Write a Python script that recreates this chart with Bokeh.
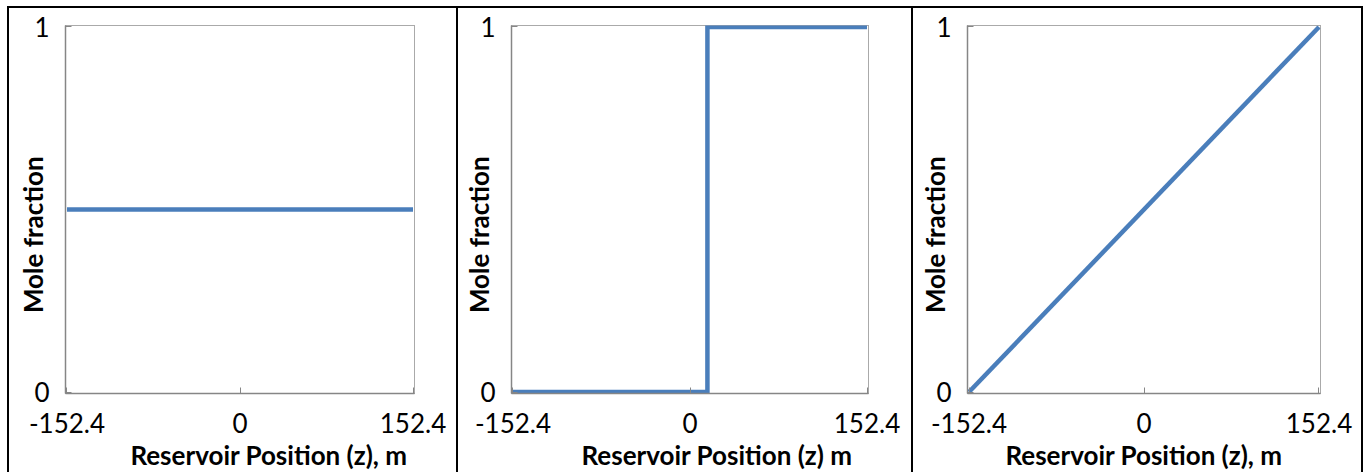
from bokeh.plotting import figure
from bokeh.layouts import row
from bokeh.models import FixedTicker, CustomJSTickFormatter, Range1d, Title
from bokeh.embed import file_html
from bokeh.resources import INLINE

# ---- data ----
z_ticks = [-152.4, 0, 152.4]
y_ticks = [0, 1]

uniform_z = [-152.4, 152.4]
uniform_x = [0.5, 0.5]

step_z = [-152.4, 15.0, 15.0, 152.4]
step_x = [0.0, 0.0, 1.0, 1.0]

linear_z = [-152.4, 152.4]
linear_x = [0.0, 1.0]

xlabels = ["Reservoir Position (z), m", "Reservoir Position (z) m", "Reservoir Position (z), m"]
ylabel = "Mole fraction"

LINE = "#4a7ebb"
AX = "#868686"
FONT = "Lato"

# (z, x, frame width, left border, right border, xlabel, right edge, title align, title offset)
panels = [
    (uniform_z, uniform_x, 347, 56, 44, xlabels[0], False, "right", 7),
    (step_z, step_x, 355, 53, 45, xlabels[1], False, "right", 16),
    (linear_z, linear_x, 349, 54, 45, xlabels[2], True, "center", 0),
]

figs = []
for z, x, fw, bl, br, xl, right_border, talign, toff in panels:
    padx = 304.8 * 1.5 / fw
    pady = 1.0 * 1.5 / 366
    p = figure(frame_width=fw, frame_height=366,
               x_range=Range1d(-152.4 - padx, 152.4 + padx),
               y_range=Range1d(0 - pady, 1 + pady),
               output_backend="svg", toolbar_location=None,
               min_border_left=bl, min_border_right=br,
               min_border_top=17, min_border_bottom=83)
    styles = {"border-top": "2px solid black", "border-left": "2px solid black"}
    if right_border:
        styles["border-right"] = "2px solid black"
    p.styles = styles
    p.grid.visible = False
    p.outline_line_color = "#555555"
    p.outline_line_dash = "1 1"
    p.outline_line_width = 1

    p.line(z, x, line_color=LINE, line_width=4.5, line_join="miter")

    p.xaxis.ticker = FixedTicker(ticks=z_ticks)
    p.yaxis.ticker = FixedTicker(ticks=y_ticks)
    p.xaxis.formatter = CustomJSTickFormatter(code="return String(tick);")
    p.yaxis.formatter = CustomJSTickFormatter(code="return String(tick);")
    for ax in (p.xaxis[0], p.yaxis[0]):
        ax.axis_line_color = AX
        ax.axis_line_width = 1.5
        ax.major_tick_line_color = AX
        ax.major_tick_in = 6
        ax.major_tick_out = 0
        ax.minor_tick_line_color = None
        ax.major_label_text_font = FONT
        ax.major_label_text_font_size = "26px"
        ax.major_label_text_color = "black"
        ax.axis_label_text_font = FONT
        ax.axis_label_text_font_style = "bold"
        ax.axis_label_text_font_size = "26px"
        ax.axis_label_text_color = "black"
    p.xaxis.major_label_standoff = 19
    p.add_layout(Title(text=xl, align=talign, offset=toff, standoff=2,
                       text_font=FONT, text_font_style="bold",
                       text_font_size="26px", text_color="black"), "below")
    # trailing no-break spaces push the visible label down, as in the reference
    p.yaxis.axis_label = ylabel + "\u00a0" * 8
    p.yaxis.major_label_standoff = 16
    p.yaxis.axis_label_standoff = -18
    p.yaxis.major_label_orientation = "horizontal"
    figs.append(p)

layout = row(*figs, spacing=0, margin=(6, 0, 0, 7))
open("out.html", "w").write(file_html(layout, INLINE))
